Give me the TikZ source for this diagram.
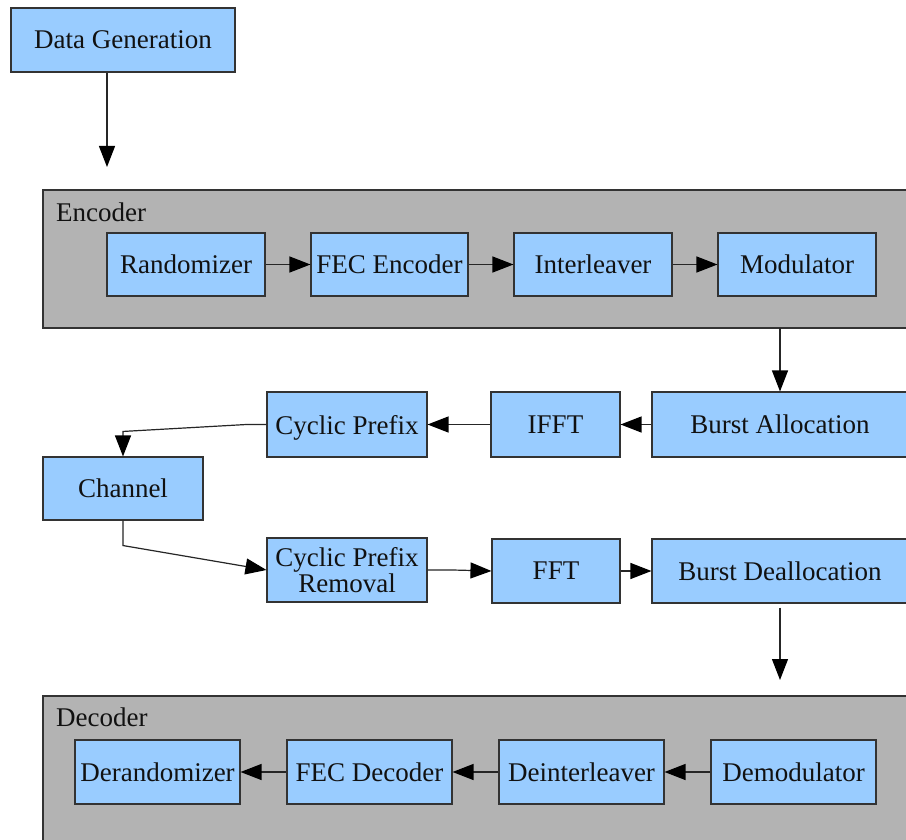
\documentclass[tikz,border=0pt]{standalone}
\usepackage{fontspec}
\setmainfont{Liberation Serif}
\usetikzlibrary{arrows.meta,calc}
\definecolor{boxblue}{HTML}{99CCFF}
\definecolor{grp}{HTML}{B3B3B3}
\definecolor{edge}{HTML}{333333}
\definecolor{txt}{HTML}{111111}
\tikzset{
  blk/.style={draw=edge,fill=boxblue,line width=1.1pt,inner sep=0pt,align=center,text=txt,
    font=\fontsize{27}{29}\selectfont},
  grpbox/.style={draw=edge,fill=grp,line width=1.1pt},
  grplabel/.style={anchor=west,text=txt,inner sep=0pt,font=\fontsize{27}{29}\selectfont},
  conn/.style={draw=black!85,line width=1.2pt,-{Triangle[length=21pt,width=16pt,fill=black,color=black]}},
}
\begin{document}
\begin{tikzpicture}[x=1pt,y=-1pt]
\useasboundingbox (0,0) rectangle (906,840);
\clip (0,0) rectangle (906,840);
\fill[white] (0,0) rectangle (906,840);
% groups
\draw[grpbox] (43,190) rectangle (930,328);
\coordinate (encS) at (780,328);
\node[grplabel] (enclab) at (56,212) {Encoder};
\draw[grpbox] (43,696) rectangle (930,860);
\node[grplabel] (declab) at (56,717) {Decoder};
% nodes
\node[blk,minimum width=224pt,minimum height=64pt] (dg) at (123,40) {Data Generation};
\coordinate (dgend) at (107,167);
\node[blk,minimum width=158pt,minimum height=63pt] (rand) at (186,264.5) {Randomizer};
\node[blk,minimum width=157pt,minimum height=63pt] (fec) at (389.5,264.5) {FEC Encoder};
\node[blk,minimum width=158pt,minimum height=63pt] (inter) at (593,264.5) {Interleaver};
\node[blk,minimum width=158pt,minimum height=63pt] (mod) at (797,264.5) {Modulator};
\node[blk,minimum width=256pt,minimum height=65pt] (ba) at (780,424.5) {Burst Allocation};
\node[blk,minimum width=129pt,minimum height=65pt] (ifft) at (555.5,424.5) {IFFT};
\node[blk,minimum width=160pt,minimum height=65pt,text depth=0pt] (cp) at (347,424.5) {Cyclic Prefix};
\node[blk,minimum width=160pt,minimum height=63pt] (chan) at (123,488.5) {Channel};
\node[blk,minimum width=160pt,minimum height=64pt] (cpr) at (347,570) {Cyclic Prefix\\[-3pt]Removal};
\node[blk,minimum width=128pt,minimum height=64pt] (fft) at (556,571) {FFT};
\node[blk,minimum width=256pt,minimum height=64pt] (bd) at (780,571) {Burst Deallocation};
\coordinate (bdend) at (780,680);
\node[blk,minimum width=165pt,minimum height=64pt] (derand) at (157.5,772) {Derandomizer};
\node[blk,minimum width=165pt,minimum height=64pt] (fecd) at (369.5,772) {FEC Decoder};
\node[blk,minimum width=165pt,minimum height=64pt] (deint) at (581.5,772) {Deinterleaver};
\node[blk,minimum width=165pt,minimum height=64pt] (demod) at (793.5,772) {Demodulator};
% connectors
\draw[conn] (dg.south -| dgend) -- (dgend);
\draw[conn] (rand) -- (fec);
\draw[conn] (fec) -- (inter);
\draw[conn] (inter) -- (mod);
\draw[conn] (encS) -- (ba.north);
\draw[conn] (ba) -- (ifft);
\draw[conn] (ifft) -- (cp);
\draw[conn] (cp.west) -- ++(-20,0) -- ($(chan.north)+(0,-25)$) -- (chan.north);
\draw[conn] (chan.south) -- ++(0,25) -- (cpr.west);
\draw[conn] (cpr.east) -- ++(25,0) -- (fft.west);
\draw[conn] (fft) -- (bd);
\draw[conn] ($(bd.south)+(0,4)$) -- (bdend);
\draw[conn] (demod) -- (deint);
\draw[conn] (deint) -- (fecd);
\draw[conn] (fecd) -- (derand);
\end{tikzpicture}
\end{document}
